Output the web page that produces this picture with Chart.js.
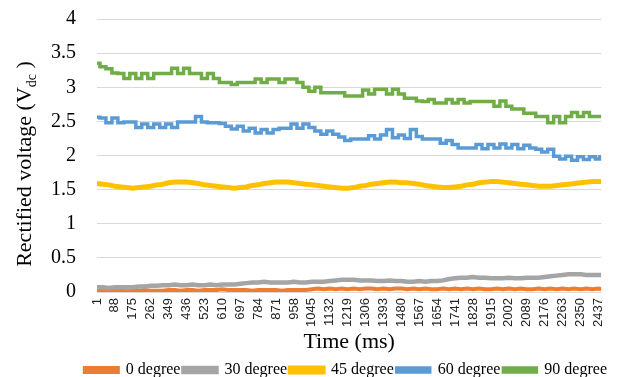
<!DOCTYPE html>
<html>
<head>
<meta charset="utf-8">
<script src="https://cdn.jsdelivr.net/npm/chart.js@4"></script>
<style>
  body { margin: 0; background: #fff; }
  #wrap { width: 620px; height: 377px; }
</style>
</head>
<body>
<div id="wrap"><canvas id="chart"></canvas></div>
<script>
// sample times (ms) read along the x axis
const TIME_MS = [1, 30, 59, 88, 117, 146, 175, 204, 233, 262, 291, 320, 349, 378, 407, 436, 465, 494, 523, 552,
  581, 610, 639, 668, 697, 726, 755, 784, 813, 842, 871, 900, 929, 958, 987, 1016, 1045, 1074, 1103, 1132,
  1161, 1190, 1219, 1248, 1277, 1306, 1335, 1364, 1393, 1422, 1451, 1480, 1509, 1538, 1567, 1596, 1625, 1654, 1683, 1712,
  1741, 1770, 1799, 1828, 1857, 1886, 1915, 1944, 1973, 2002, 2031, 2060, 2089, 2118, 2147, 2176, 2205, 2234, 2263, 2292,
  2321, 2350, 2379, 2408, 2437, 2451];

const TICK_LABELS = [1, 88, 175, 262, 349, 436, 523, 610, 697, 784, 871, 958, 1045, 1132, 1219, 1306, 1393, 1480,
  1567, 1654, 1741, 1828, 1915, 2002, 2089, 2176, 2263, 2350, 2437];

const SERIES_NAMES = ["0 degree", "30 degree", "45 degree", "60 degree", "90 degree"];

const DEG_0 = [0.02, 0.02, 0.03, 0.02, 0.02, 0.01, 0.02, 0.02, 0.03, 0.02,
  0.02, 0.02, 0.03, 0.03, 0.02, 0.03, 0.03, 0.02, 0.03, 0.03,
  0.03, 0.04, 0.03, 0.03, 0.03, 0.03, 0.02, 0.03, 0.03, 0.03,
  0.03, 0.02, 0.03, 0.03, 0.03, 0.03, 0.04, 0.05, 0.04, 0.05,
  0.04, 0.05, 0.04, 0.05, 0.04, 0.05, 0.05, 0.04, 0.05, 0.04,
  0.05, 0.05, 0.04, 0.05, 0.04, 0.05, 0.04, 0.04, 0.05, 0.04,
  0.05, 0.04, 0.05, 0.04, 0.05, 0.04, 0.04, 0.05, 0.04, 0.05,
  0.04, 0.05, 0.04, 0.04, 0.05, 0.04, 0.05, 0.04, 0.05, 0.04,
  0.05, 0.04, 0.05, 0.04, 0.05, 0.04];

const DEG_30 = [0.07, 0.07, 0.06, 0.07, 0.07, 0.07, 0.07, 0.08, 0.08, 0.09,
  0.09, 0.10, 0.10, 0.11, 0.10, 0.10, 0.11, 0.10, 0.10, 0.11,
  0.10, 0.11, 0.11, 0.11, 0.12, 0.13, 0.14, 0.14, 0.15, 0.14,
  0.14, 0.14, 0.14, 0.15, 0.14, 0.14, 0.15, 0.15, 0.15, 0.16,
  0.17, 0.18, 0.18, 0.18, 0.17, 0.17, 0.17, 0.16, 0.16, 0.17,
  0.16, 0.16, 0.15, 0.15, 0.16, 0.15, 0.16, 0.16, 0.17, 0.19,
  0.20, 0.21, 0.21, 0.22, 0.21, 0.21, 0.20, 0.20, 0.20, 0.21,
  0.20, 0.20, 0.21, 0.21, 0.21, 0.22, 0.23, 0.24, 0.25, 0.26,
  0.26, 0.26, 0.25, 0.25, 0.25, 0.25];

const DEG_45 = [1.59, 1.58, 1.57, 1.55, 1.54, 1.53, 1.52, 1.53, 1.54, 1.55,
  1.57, 1.58, 1.60, 1.61, 1.61, 1.61, 1.60, 1.59, 1.57, 1.56,
  1.55, 1.54, 1.53, 1.52, 1.53, 1.54, 1.56, 1.57, 1.59, 1.60,
  1.61, 1.61, 1.61, 1.60, 1.59, 1.58, 1.57, 1.56, 1.55, 1.54,
  1.53, 1.52, 1.52, 1.53, 1.55, 1.56, 1.58, 1.59, 1.60, 1.61,
  1.61, 1.60, 1.60, 1.59, 1.58, 1.56, 1.55, 1.54, 1.53, 1.53,
  1.54, 1.55, 1.57, 1.58, 1.60, 1.61, 1.62, 1.62, 1.61, 1.60,
  1.59, 1.58, 1.57, 1.56, 1.55, 1.55, 1.55, 1.56, 1.57, 1.58,
  1.59, 1.60, 1.61, 1.62, 1.62, 1.62];

const DEG_60 = [2.56, 2.55, 2.48, 2.55, 2.48, 2.49, 2.49, 2.41, 2.46, 2.41,
  2.46, 2.41, 2.46, 2.41, 2.49, 2.49, 2.49, 2.57, 2.49, 2.48,
  2.48, 2.47, 2.43, 2.39, 2.43, 2.36, 2.40, 2.33, 2.38, 2.33,
  2.38, 2.40, 2.40, 2.46, 2.40, 2.46, 2.41, 2.36, 2.31, 2.36,
  2.31, 2.27, 2.22, 2.24, 2.24, 2.24, 2.29, 2.24, 2.30, 2.38,
  2.26, 2.30, 2.25, 2.38, 2.28, 2.24, 2.24, 2.24, 2.18, 2.22,
  2.16, 2.11, 2.11, 2.11, 2.16, 2.10, 2.16, 2.11, 2.17, 2.11,
  2.16, 2.10, 2.15, 2.11, 2.09, 2.05, 2.09, 1.99, 1.95, 1.99,
  1.93, 1.98, 1.94, 1.98, 1.95, 1.98];

const DEG_90 = [3.35, 3.30, 3.27, 3.21, 3.20, 3.13, 3.20, 3.13, 3.20, 3.13,
  3.20, 3.20, 3.20, 3.28, 3.20, 3.28, 3.20, 3.20, 3.13, 3.20,
  3.13, 3.07, 3.07, 3.04, 3.07, 3.07, 3.07, 3.12, 3.07, 3.12,
  3.12, 3.07, 3.12, 3.12, 3.07, 3.00, 2.94, 3.00, 2.92, 2.92,
  2.92, 2.92, 2.87, 2.87, 2.87, 2.96, 2.90, 2.97, 2.97, 2.90,
  2.97, 2.90, 2.84, 2.84, 2.80, 2.79, 2.82, 2.77, 2.77, 2.82,
  2.77, 2.82, 2.77, 2.79, 2.79, 2.79, 2.79, 2.72, 2.80, 2.72,
  2.68, 2.68, 2.62, 2.62, 2.57, 2.57, 2.48, 2.57, 2.48, 2.57,
  2.63, 2.57, 2.63, 2.57, 2.57, 2.57];

const COLORS = ["#ED7D31", "#A5A5A5", "#FFC000", "#5B9BD5", "#70AD47"];
const WIDTHS = [4, 4.5, 5, 3.5, 3.5];

function toPoints(values) {
  return TIME_MS.map((t, i) => ({ x: t, y: values[i] }));
}

// y title with subscript "dc"
const yTitlePlugin = {
  id: "yTitle",
  afterLayout(chart) {
    // nudge legend a bit left, like the original
    chart.legend.left -= 10;
    chart.legend.right -= 10;
  },
  afterDraw(chart) {
    const ctx = chart.ctx;
    const main = "Rectified voltage (V";
    const sub = "dc";
    const tail = " )";
    ctx.save();
    ctx.fillStyle = "#000";
    ctx.textBaseline = "alphabetic";
    ctx.font = "22px 'Liberation Serif'";
    const w1 = ctx.measureText(main).width;
    const w3 = ctx.measureText(tail).width;
    ctx.font = "14px 'Liberation Serif'";
    const w2 = ctx.measureText(sub).width;
    const total = w1 + w2 + w3;
    ctx.translate(31, 164);
    ctx.rotate(-Math.PI / 2);
    let x = -total / 2;
    ctx.font = "22px 'Liberation Serif'";
    ctx.fillText(main, x, 0);
    x += w1;
    ctx.font = "14px 'Liberation Serif'";
    ctx.fillText(sub, x, 5);
    x += w2;
    ctx.font = "22px 'Liberation Serif'";
    ctx.fillText(tail, x, 0);
    ctx.restore();
  },
};

new Chart(document.getElementById("chart"), {
  type: "line",
  data: {
    datasets: [DEG_0, DEG_30, DEG_45, DEG_60, DEG_90].map((vals, i) => ({
      label: SERIES_NAMES[i],
      data: toPoints(vals),
      borderColor: COLORS[i],
      backgroundColor: COLORS[i],
      borderWidth: WIDTHS[i],
      pointRadius: 0,
      stepped: i >= 3 ? "middle" : false,
      order: 4 - i,
    })),
  },
  options: {
    responsive: true,
    maintainAspectRatio: false,
    animation: false,
    layout: { padding: { top: 19, left: 0, right: 0, bottom: -11 } },
    plugins: {
      tooltip: { enabled: false },
      legend: {
        position: "bottom",
        align: "end",
        labels: {
          boxWidth: 33,
          boxHeight: 4,
          padding: 3,
          color: "#000",
          font: { family: "'Liberation Serif'", size: 16, weight: "normal" },
          sort: (a, b) => a.datasetIndex - b.datasetIndex,
        },
      },
    },
    scales: {
      x: {
        type: "linear",
        min: 1,
        max: 2451,
        afterBuildTicks: (scale) => {
          scale.ticks = TICK_LABELS.map((v) => ({ value: v }));
        },
        afterFit: (scale) => {
          scale.height = 67;
        },
        grid: { display: false, drawTicks: false },
        border: { display: false },
        ticks: {
          autoSkip: false,
          minRotation: 90,
          maxRotation: 90,
          padding: 6,
          color: "#222",
          font: { family: "'Liberation Sans'", size: 13, weight: "normal" },
          callback: (v) => String(v),
        },
        title: {
          display: true,
          text: "Time (ms)",
          color: "#000",
          padding: { top: 4, bottom: 4 },
          font: { family: "'Liberation Serif'", size: 22, weight: "normal" },
        },
      },
      y: {
        min: 0,
        max: 4,
        afterFit: (scale) => {
          scale.width = 97;
          scale.paddingTop = 0;
          scale.paddingBottom = 0;
        },
        grid: { color: "#D9D9D9", lineWidth: 1, drawTicks: false },
        border: { display: false },
        ticks: {
          stepSize: 0.5,
          padding: 21,
          color: "#000",
          font: { family: "'Liberation Serif'", size: 20, weight: "normal" },
          callback: (v) => String(v),
        },
      },
    },
  },
  plugins: [yTitlePlugin],
});
</script>
</body>
</html>
